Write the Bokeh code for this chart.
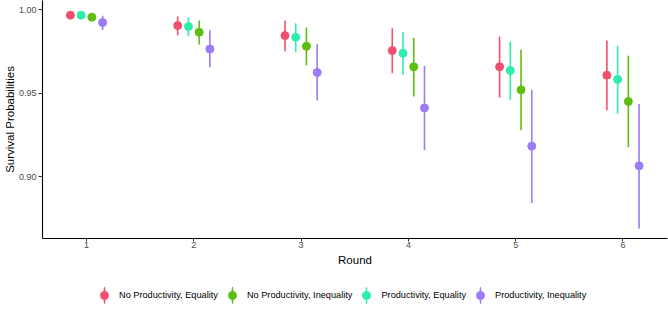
from bokeh.plotting import figure
from bokeh.layouts import column
from bokeh.models import ColumnDataSource, Range1d, FixedTicker, Legend, LegendItem
from bokeh.transform import dodge
from bokeh.embed import file_html
from bokeh.resources import INLINE

rounds = [1, 2, 3, 4, 5, 6]

groups = ["No Productivity, Equality", "No Productivity, Inequality",
          "Productivity, Equality", "Productivity, Inequality"]

npe_est = [0.9966, 0.9904, 0.9844, 0.9754, 0.9657, 0.9607]
npe_lo = [0.9957, 0.9846, 0.9750, 0.9619, 0.9473, 0.9397]
npe_hi = [0.9975, 0.9958, 0.9934, 0.9888, 0.9838, 0.9814]

npi_est = [0.9954, 0.9864, 0.9780, 0.9657, 0.9519, 0.9449]
npi_lo = [0.9942, 0.9790, 0.9667, 0.9479, 0.9277, 0.9175]
npi_hi = [0.9966, 0.9934, 0.9892, 0.9830, 0.9759, 0.9723]

pe_est = [0.9966, 0.9898, 0.9834, 0.9738, 0.9635, 0.9581]
pe_lo = [0.9957, 0.9840, 0.9744, 0.9609, 0.9457, 0.9377]
pe_hi = [0.9975, 0.9952, 0.9918, 0.9866, 0.9808, 0.9783]

pi_est = [0.9922, 0.9764, 0.9623, 0.9411, 0.9182, 0.9064]
pi_lo = [0.9878, 0.9655, 0.9455, 0.9158, 0.8842, 0.8689]
pi_hi = [0.9962, 0.9876, 0.9792, 0.9663, 0.9519, 0.9435]

y_ticks = [0.90, 0.95, 1.00]
y_tick_labels = ["0.90", "0.95", "1.00"]

series = [
    (groups[0], npe_est, npe_lo, npe_hi, "#F24F6E", -0.15),
    (groups[1], npi_est, npi_lo, npi_hi, "#5DBE0F", 0.05),
    (groups[2], pe_est, pe_lo, pe_hi, "#2DEEAB", -0.05),
    (groups[3], pi_est, pi_lo, pi_hi, "#9B7BF7", 0.15),
]

FONT = "Liberation Sans"

p = figure(width=668, height=272, output_backend="svg", toolbar_location=None,
           x_range=Range1d(0.59, 6.415), y_range=Range1d(0.8629, 1.0054),
           min_border_left=41, min_border_right=1, min_border_top=0, min_border_bottom=34)
p.outline_line_color = None
p.xgrid.visible = False
p.ygrid.visible = False
p.background_fill_color = "white"
p.border_fill_color = "white"

for ax in (p.xaxis[0], p.yaxis[0]):
    ax.axis_line_color = "black"
    ax.axis_line_width = 1.1
    ax.major_tick_line_color = "#333333"
    ax.major_tick_in = 0
    ax.major_tick_out = 3
    ax.minor_tick_line_color = None
    ax.major_label_text_font = FONT
    ax.major_label_text_font_size = "9px"
    ax.major_label_text_color = "#4d4d4d"
    ax.axis_label_text_font = FONT
    ax.axis_label_text_font_style = "normal"
    ax.axis_label_text_font_size = "11.5px"
    ax.axis_label_text_color = "black"

p.xaxis.ticker = FixedTicker(ticks=rounds)
p.xaxis.axis_label = "Round"
p.xaxis.major_label_standoff = 0
p.xaxis.axis_label_standoff = 3
p.yaxis.ticker = FixedTicker(ticks=y_ticks)
p.yaxis.major_label_overrides = {t: l for t, l in zip(y_ticks, y_tick_labels)}
p.yaxis.axis_label = "Survival Probabilities"
p.yaxis.major_tick_out = 4
p.yaxis.major_label_standoff = 2
p.yaxis.axis_label_standoff = 0

# legend strip
lg = figure(width=668, height=38, output_backend="svg", toolbar_location=None,
            x_range=Range1d(0, 1), y_range=Range1d(0, 1),
            x_axis_location=None, y_axis_location=None,
            min_border_left=0, min_border_right=0, min_border_top=0, min_border_bottom=0)
lg.grid.visible = False
lg.outline_line_color = None
lg.border_fill_color = "white"

items = []
for name, est, lo, hi, color, off in series:
    src = ColumnDataSource(dict(round=rounds, est=est, lo=lo, hi=hi))
    xd = dodge("round", off, range=p.x_range)
    p.segment(x0=xd, x1=xd, y0="lo", y1="hi", source=src, line_color=color, line_width=1.6)
    p.scatter(x=xd, y="est", source=src, size=8, fill_color=color, line_color=color,
              marker="circle")
    dsrc = ColumnDataSource(dict(x=[float("nan")], y=[float("nan")]))
    r1 = lg.ellipse(x="x", y="y", source=dsrc, width=0.1, height=15,
                    width_units="screen", height_units="screen",
                    fill_color=color, line_color=color, line_width=1.6)
    r2 = lg.scatter(x="x", y="y", source=dsrc, marker="circle", size=8,
                    fill_color=color, line_color=color)
    items.append(LegendItem(label=name, renderers=[r1, r2]))

legend = Legend(items=items, orientation="horizontal", location=(52, 5),
                label_text_font=FONT, label_text_font_size="9.2px", label_text_color="black",
                glyph_width=20, glyph_height=20, label_standoff=5, spacing=4,
                padding=0, margin=0, border_line_color=None, background_fill_alpha=0)
lg.add_layout(legend, "center")

layout = column(p, lg, spacing=0)
open("out.html", "w").write(file_html(layout, INLINE))
